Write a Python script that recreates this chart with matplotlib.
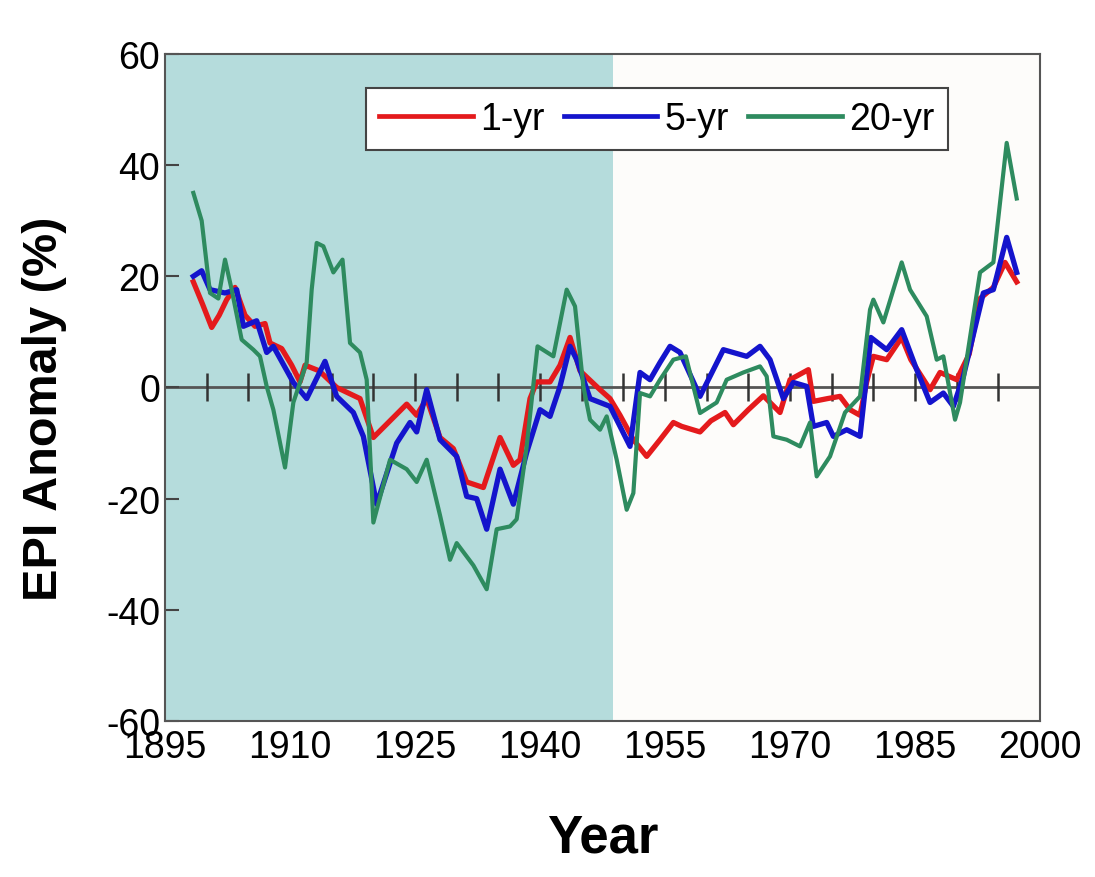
import matplotlib.pyplot as plt
import numpy as np

plt.rcParams['font.family'] = ['Liberation Sans', 'DejaVu Sans']
plt.rcParams['axes.unicode_minus'] = False

# 1-yr series
yr_1 = [1898.4, 1899.5, 1900.6, 1901.5, 1902.4, 1903.4, 1904.6, 1905.8, 1907.0, 1907.6,
        1909.0, 1910.2, 1911.2, 1911.8, 1913.5, 1915.6, 1917.0, 1918.4, 1920.0, 1922.0,
        1924.0, 1925.2, 1926.4, 1928.0, 1929.6, 1931.2, 1933.2, 1935.2, 1936.8, 1937.6,
        1938.8, 1939.6, 1941.2, 1942.4, 1943.6, 1944.8, 1947.2, 1948.4, 1949.6, 1951.2,
        1952.8, 1954.4, 1956.0, 1957.0, 1959.2, 1960.5, 1962.2, 1963.2, 1965.0, 1966.8,
        1968.8, 1970.0, 1972.2, 1972.8, 1974.5, 1976.0, 1977.2, 1978.4, 1979.2, 1980.0,
        1981.6, 1983.4, 1984.5, 1986.8, 1988.0, 1990.0, 1991.5, 1992.8, 1994.4, 1995.8,
        1997.2]
val_1 = [19, 15, 10.8, 13, 15.8, 18, 13, 11, 11.5, 8,
         7, 4, 1, 4, 3, 0, -1, -2, -9, -6,
         -3, -5, -2, -9, -11, -17, -18, -9, -14, -13,
         -2, 1, 1, 4, 9, 3, -0.4, -2, -5, -9.4,
         -12.4, -9.4, -6.3, -7, -8, -6, -4.5, -6.7, -4, -1.5,
         -4.5, 1.4, 3.2, -2.5, -2, -1.6, -4, -5, 1, 5.6,
         5, 9, 5, -0.4, 2.7, 1.4, 6, 16, 18, 22.5,
         19]

# 5-yr series
yr_5 = [1898.4, 1899.4, 1900.4, 1902.2, 1903.6, 1904.4, 1906.0, 1907.2, 1908.0, 1910.4,
        1912.0, 1914.2, 1915.6, 1917.6, 1918.8, 1920.4, 1922.8, 1924.4, 1925.2, 1926.4,
        1928.0, 1930.0, 1931.2, 1932.4, 1933.6, 1935.2, 1936.8, 1938.4, 1940.0, 1941.2,
        1942.4, 1943.6, 1944.4, 1946.0, 1948.4, 1950.8, 1952.0, 1953.2, 1954.4, 1955.6,
        1956.8, 1959.2, 1962.0, 1964.8, 1966.4, 1967.6, 1969.2, 1970.4, 1972.0, 1972.8,
        1974.4, 1975.2, 1976.8, 1978.4, 1979.7, 1981.6, 1983.4, 1985.2, 1986.8, 1988.4,
        1989.6, 1990.8, 1993.2, 1994.4, 1996.0, 1997.2]
val_5 = [20, 21, 17.6, 17, 17.6, 11, 12, 6.3, 7.4, 0.9,
         -2, 4.7, -1.6, -4.5, -8.8, -21, -10, -6.3, -8, -0.4,
         -9.4, -12.4, -19.6, -20, -25.5, -14.7, -21, -11.7, -4, -5.2,
         0.2, 7.4, 5, -2, -3.4, -10.6, 2.7, 1.4, 4.5, 7.4,
         6.3, -1.6, 6.8, 5.6, 7.4, 5, -2, 0.9, 0.2, -7,
         -6.3, -8.8, -7.6, -8.8, 9, 6.8, 10.4, 3.2, -2.7, -1,
         -3.4, 2, 17, 17.6, 27, 20.7]

# 20-yr series
yr_20 = [1898.4, 1899.4, 1900.4, 1901.4, 1902.2, 1903.0, 1904.2, 1905.6, 1906.4, 1907.2,
         1908.0, 1909.4, 1910.4, 1912.0, 1912.6, 1913.2, 1914.0, 1915.2, 1916.3, 1917.2,
         1918.4, 1919.2, 1920.0, 1922.0, 1924.0, 1925.2, 1926.4, 1928.0, 1929.2, 1930.0,
         1932.0, 1933.6, 1934.8, 1936.4, 1937.2, 1938.4, 1939.7, 1941.6, 1943.2, 1944.2,
         1945.2, 1946.0, 1947.2, 1948.0, 1949.2, 1950.4, 1951.2, 1952.0, 1953.2, 1954.4,
         1956.0, 1957.5, 1959.2, 1961.2, 1962.4, 1964.4, 1966.4, 1967.2, 1968.0, 1969.6,
         1971.2, 1972.4, 1973.2, 1974.8, 1976.6, 1978.4, 1979.6, 1980.0, 1981.2, 1983.4,
         1984.4, 1986.4, 1987.6, 1988.4, 1989.8, 1990.4, 1992.8, 1994.4, 1996.0, 1997.2]
val_20 = [35, 30, 17, 16, 23, 17.6, 8.6, 6.8, 5.6, 0.2,
          -4, -14.4, -2.7, 4.5, 17.6, 26, 25.4, 20.7, 23, 8,
          6.3, 1.4, -24.3, -13, -14.7, -17, -13, -23, -31, -28,
          -32, -36.3, -25.5, -25, -23.7, -10.6, 7.4, 5.6, 17.6, 14.6,
          0.2, -5.8, -7.6, -5.2, -13, -22, -19, -1, -1.6, 1.4,
          5, 5.6, -4.6, -2.7, 1.4, 2.7, 3.8, 2, -8.8, -9.4,
          -10.6, -6.3, -16, -12.4, -4.5, -1.6, 14, 15.8, 11.7, 22.5,
          17.6, 12.8, 5, 5.6, -5.8, -2.7, 20.7, 22.5, 44, 34]

shade_end = 1948.8
zero_ticks = np.arange(1900, 2000, 5)
xt = [1895, 1910, 1925, 1940, 1955, 1970, 1985, 2000]
yt = [-60, -40, -20, 0, 20, 40, 60]

fig = plt.figure(figsize=(10.95, 8.78), dpi=100)
ax = fig.add_axes([0.1507, 0.1777, 0.7991, 0.7597])
ax.set_facecolor('#fdfcfa')

ax.axvspan(1895, shade_end, color='#b5dcdc', lw=0, zorder=0)
ax.axhline(0, color='#555555', lw=2, zorder=1)
ax.plot(zero_ticks, np.zeros(len(zero_ticks)), ls='None', marker='|', ms=20,
        mew=1.8, color='#333333', zorder=1)

ax.plot(yr_1, val_1, color='#e41a1c', lw=3.8, label='1-yr', zorder=3)
ax.plot(yr_5, val_5, color='#1414cc', lw=3.8, label='5-yr', zorder=4)
ax.plot(yr_20, val_20, color='#2e8b5f', lw=3.0, label='20-yr', zorder=5)

ax.set_xlim(1895, 2000)
ax.set_ylim(-60, 60)
ax.set_xticks(xt)
ax.set_yticks(yt)
ax.tick_params(axis='x', length=0, labelsize=27, pad=6)
ax.tick_params(axis='y', direction='in', length=10, width=1.5, labelsize=27,
               color='#444444')
for s in ax.spines.values():
    s.set_color('#555555')
    s.set_linewidth(1.5)

ax.set_xlabel('Year', fontsize=38, fontweight='bold', labelpad=34)
ax.set_ylabel('EPI Anomaly (%)', fontsize=35, fontweight='bold')
ax.yaxis.set_label_coords(-0.112, 0.47)

leg = ax.legend(loc='upper center', bbox_to_anchor=(0.562, 0.977), ncol=3,
                fontsize=27, handlelength=2.5, handletextpad=0.2, columnspacing=0.5,
                fancybox=False, framealpha=1, edgecolor='#444444',
                borderpad=0.35)
leg.get_frame().set_linewidth(1.5)
for l in leg.get_lines():
    l.set_linewidth(3.4)

plt.savefig('out.png', dpi=100)
